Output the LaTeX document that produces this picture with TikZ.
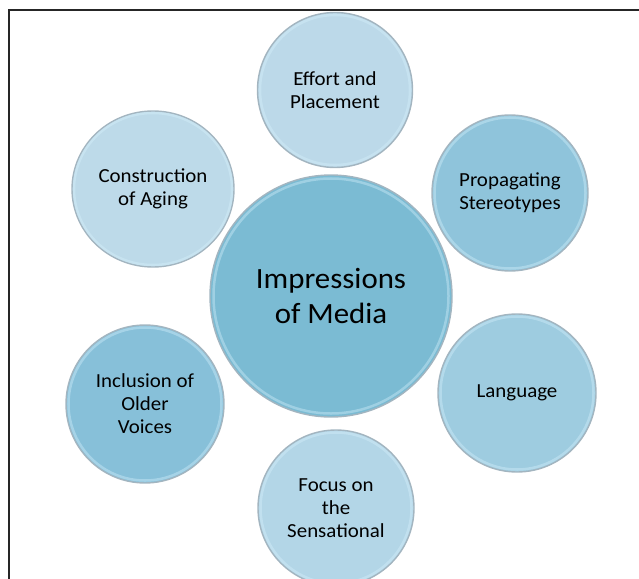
\documentclass[tikz,border=0pt]{standalone}
\usepackage{fontspec}
\setmainfont[FakeStretch=1.05]{Carlito}
\usetikzlibrary{shapes.geometric}
\definecolor{ringgray}{HTML}{A3B5C0}
\definecolor{glowcol}{HTML}{D6F1FC}
\definecolor{cCenter}{HTML}{7BBBD3}
\definecolor{cEffort}{HTML}{BCD9E9}
\definecolor{cConstr}{HTML}{BDDAE9}
\definecolor{cProp}{HTML}{8FC4DB}
\definecolor{cIncl}{HTML}{87C0D9}
\definecolor{cLang}{HTML}{9ECCE0}
\definecolor{cFocus}{HTML}{B3D6E7}
\begin{document}
\begin{tikzpicture}[x=1bp,y=-1bp,
  bubble/.style={circle, draw=ringgray, line width=1.4bp, align=center,
    inner sep=0pt, text=black, font=\fontsize{20}{23}\selectfont},
  bigbubble/.style={bubble, font=\fontsize{29.5}{35}\selectfont},
  glow/.style={draw=glowcol, line width=2.5bp, opacity=0.4},
  frameline/.style={draw=black!85, line width=2bp}]
\useasboundingbox (0,0) rectangle (639,579);
% frame along the top and left edges
\draw[frameline] (9,579) -- (9,10) -- (639,10);

% central bubble
\node[bigbubble, fill=cCenter, minimum size=242bp] (media) at (331,296)
  {Impressions\\of Media};

% surrounding bubbles
\node[bubble, fill=cEffort, minimum size=155bp] (effort) at (335,90)
  {Effort and\\Placement};
\node[bubble, ellipse, fill=cConstr, minimum width=162bp, minimum height=156bp]
  (constr) at (153,189) {Construction\\of Aging};
\node[bubble, fill=cProp, minimum size=156bp] (prop) at (510,193)
  {Propagating\\Stereotypes};
\node[bubble, fill=cIncl, minimum size=158bp] (incl) at (145,404)
  {Inclusion of\\Older\\Voices};
\node[bubble, fill=cLang, minimum size=158bp] (lang) at (517,393)
  {Language};
\node[bubble, fill=cFocus, minimum size=156bp] (focus) at (336,508)
  {Focus on\\the\\Sensational};

% soft inner rim on each bubble
\foreach \n/\r in {media/117.5, effort/75, prop/75.5, incl/76.5, lang/76.5, focus/75.5}
  \draw[glow] (\n.center) circle (\r bp);
\draw[glow] (constr.center) ellipse (79bp and 76bp);
\end{tikzpicture}
\end{document}
